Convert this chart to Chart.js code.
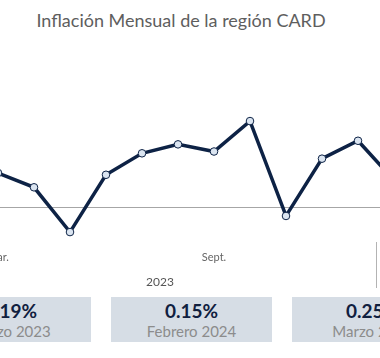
<!DOCTYPE html>
<html>
<head>
<meta charset="utf-8">
<script src="https://cdn.jsdelivr.net/npm/chart.js@4"></script>
<style>
  html, body { margin: 0; padding: 0; background: #fff; }
  body { width: 380px; height: 358px; position: relative; overflow: hidden; font-family: Lato, "Open Sans", sans-serif; }
  .title { position: absolute; top: 9px; left: 0; width: 362px; text-align: center; font-size: 18px; color: #5e5e5e; white-space: nowrap; }
  .chart-box { position: absolute; left: 0; top: 60px; width: 380px; height: 232px; }
  .card { position: absolute; top: 297px; width: 161px; height: 45px; background: #d6dde5; text-align: center; }
  .card .val { font-size: 19px; font-weight: 700; color: #10203f; margin-top: 3px; line-height: 22px; }
  .card .lbl { font-size: 15px; color: #8c8c8c; line-height: 18px; }
</style>
</head>
<body>
<div class="title">Inflación Mensual de la región CARD</div>
<div class="chart-box"><canvas id="inflChart"></canvas></div>
<div id="cards"></div>

<script>
// month axis as the source shows it (Feb. 2023 value is off the picture)
const monthLabels = ['Feb.', 'Mar.', 'Abr.', 'May.', 'Jun.', 'Jul.', 'Ago.', 'Sept.', 'Oct.', 'Nov.', 'Dic.', 'Ene.', 'Feb.', 'Mar.'];
const axisYears = ['2023', '2023', '2023', '2023', '2023', '2023', '2023', '2023', '2023', '2023', '2023', '2023', '2024', '2024'];
const inflation = [null, 0.19, 0.11, -0.14, 0.18, 0.30, 0.35, 0.31, 0.48, -0.05, 0.27, 0.37, 0.15, 0.25];
const shownMonths = [1, 7];

const cardValues = ['0.19%', '0.15%', '0.25%'];
const cardLabels = ['Marzo 2023', 'Febrero 2024', 'Marzo 2024'];

// summary cards
const cardsEl = document.getElementById('cards');
cardValues.forEach((v, i) => {
  const d = document.createElement('div');
  d.className = 'card';
  d.style.left = (-70 + i * 181) + 'px';
  d.innerHTML = '<div class="val">' + v + '</div><div class="lbl">' + cardLabels[i] + '</div>';
  cardsEl.appendChild(d);
});

// year groups + separators under the month labels
const yearAxis = {
  id: 'yearAxis',
  afterDraw(chart) {
    const x = chart.scales.x;
    const ctx = chart.ctx;
    const groups = [];
    axisYears.forEach((y, i) => {
      const g = groups[groups.length - 1];
      if (g && g.year === y) g.end = i; else groups.push({ year: y, start: i, end: i });
    });
    ctx.save();
    ctx.font = '12px Lato, "Open Sans", sans-serif';
    ctx.fillStyle = '#555';
    ctx.textAlign = 'center';
    ctx.textBaseline = 'middle';
    groups.forEach((g, k) => {
      const left = x.getPixelForValue(g.start - 0.5);
      const right = x.getPixelForValue(g.end + 0.5);
      ctx.fillText(g.year, (left + right) / 2, chart.chartArea.bottom + 42);
      if (k < groups.length - 1) {
        ctx.strokeStyle = '#b3b3b3';
        ctx.lineWidth = 1;
        ctx.beginPath();
        ctx.moveTo(Math.round(right) + 0.5, chart.chartArea.bottom + 2);
        ctx.lineTo(Math.round(right) + 0.5, chart.chartArea.bottom + 48);
        ctx.stroke();
      }
    });
    ctx.restore();
  }
};

new Chart(document.getElementById('inflChart'), {
  type: 'line',
  data: {
    labels: monthLabels,
    datasets: [{
      label: 'Inflación mensual',
      data: inflation.map((v, i) => ({ x: i, y: v })),
      borderColor: '#0d2245',
      borderWidth: 3.5,
      pointRadius: 3.8,
      pointBackgroundColor: '#dbe5f1',
      pointBorderColor: '#0d2245',
      pointBorderWidth: 1,
      tension: 0,
      spanGaps: false
    }]
  },
  options: {
    responsive: true,
    maintainAspectRatio: false,
    animation: false,
    layout: { padding: 0, autoPadding: false },
    plugins: { legend: { display: false }, title: { display: false }, tooltip: { enabled: false } },
    scales: {
      x: {
        type: 'linear',
        min: 38 / 36,
        max: 418 / 36,
        grid: { display: false, drawTicks: false },
        border: { display: false },
        afterBuildTicks: axis => { axis.ticks = shownMonths.map(i => ({ value: i })); },
        afterFit: axis => {
          axis.height = 52;
          // chart is cropped: labels may run off the edge
          axis.paddingLeft = 0;
          axis.paddingRight = 0;
        },
        ticks: {
          autoSkip: false,
          maxRotation: 0,
          padding: 11,
          color: '#666',
          font: { size: 11, family: 'Lato, "Open Sans", sans-serif' },
          callback: v => monthLabels[v]
        }
      },
      y: {
        min: -33 / 179,
        max: 147 / 179,
        border: { display: false },
        afterBuildTicks: axis => { axis.ticks = [{ value: 0 }]; },
        grid: { drawTicks: false, color: '#a6a6a6', lineWidth: 1 },
        ticks: { display: false }
      }
    }
  },
  plugins: [yearAxis]
});
</script>
</body>
</html>
